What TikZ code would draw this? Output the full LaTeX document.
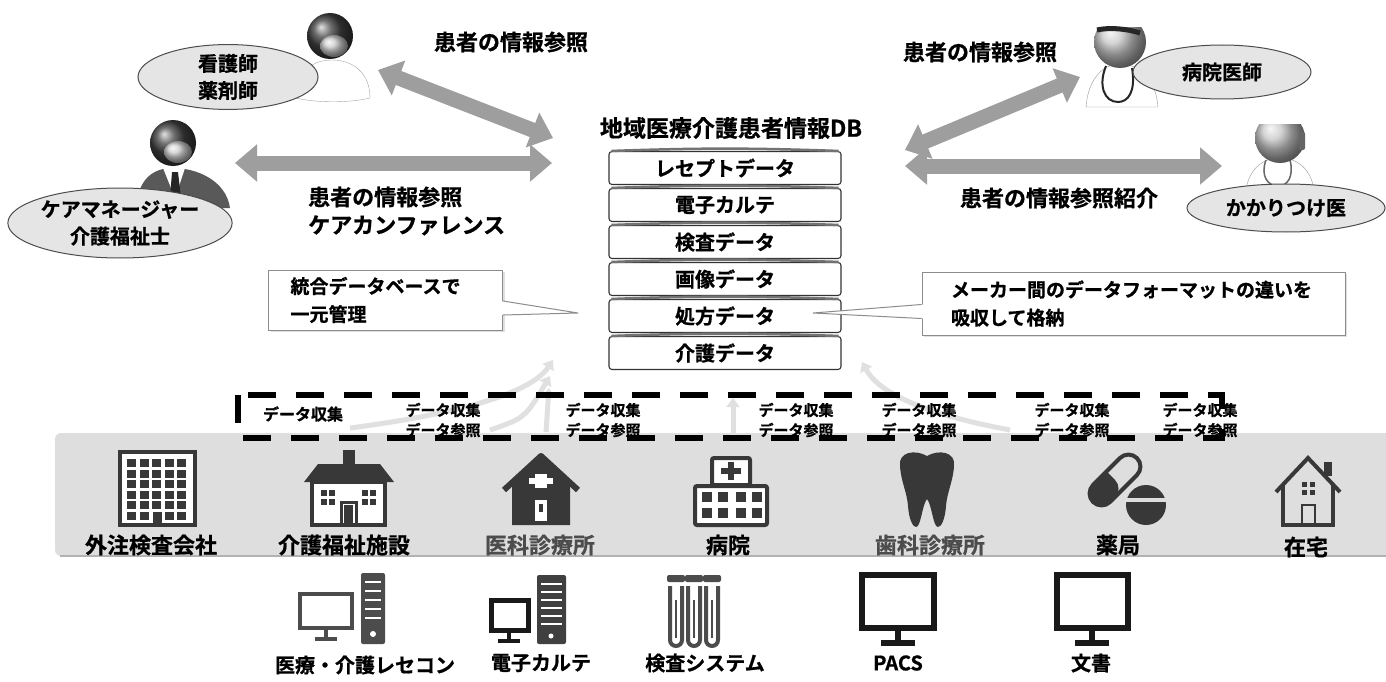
\documentclass[tikz,border=0pt]{standalone}
\usepackage{fontspec}
\setmainfont{Noto Sans CJK JP}[BoldFont={* Bold}, BoldFeatures={FakeBold=0.8}]
\usetikzlibrary{arrows.meta,shapes.geometric,shadows}

\definecolor{icon}{gray}{0.22}
\definecolor{band}{gray}{0.87}
\definecolor{flow}{gray}{0.62}
\definecolor{bubble}{gray}{0.9}

\begin{document}
\begin{tikzpicture}[x=1pt,y=-1pt,
  big/.style={font=\fontsize{22pt}{28pt}\selectfont\bfseries, inner sep=0pt, align=center},
  mid/.style={font=\fontsize{19pt}{28pt}\selectfont\bfseries, inner sep=0pt},
  tiny/.style={font=\fontsize{15pt}{20pt}\selectfont\bfseries, inner sep=0pt, align=left},
  layer/.style={draw=black!80, line width=1.1pt, fill=white, rounded corners=3pt,
    minimum width=232pt, minimum height=33pt, font=\fontsize{20pt}{24pt}\selectfont\bfseries},
  role/.style={ellipse, draw=black!70, line width=1pt, fill=bubble, inner sep=0pt, align=center,
    font=\fontsize{20pt}{27pt}\selectfont\bfseries},
  callout/.style={draw=black!45, line width=1pt, fill=white, align=left,
    drop shadow={shadow xshift=2pt,shadow yshift=-2pt,opacity=.25}},
  flowarrow/.style={line width=15pt, color=flow,
    {Triangle[width=36pt,length=22pt]}-{Triangle[width=36pt,length=22pt]}},
  upflow/.style={line width=5pt, color=black!12, -{Triangle[width=13pt,length=9pt]}},
  facility/.style={font=\fontsize{22pt}{26pt}\selectfont\bfseries, inner sep=0pt},
  system/.style={font=\fontsize{20pt}{24pt}\selectfont\bfseries, inner sep=0pt},
]
%%%%% START %%%%%
\fill[white] (0,0) rectangle (1386,682);
\useasboundingbox (0,0) rectangle (1386,682);

% facilities band and the collection frame
\fill[band, rounded corners=6pt] (55,433) rectangle (1392,556);
\draw[black!30, line width=1.5pt] (60,556) -- (1386,556);

\coordinate (upA0) at (350,428); \coordinate (upA1) at (553,360);
\coordinate (upB0) at (490,430); \coordinate (upB1) at (550,376);
\coordinate (upC0) at (546,432); \coordinate (upC1) at (549,388);
\coordinate (upD0) at (733,438); \coordinate (upD1) at (733,398);
\coordinate (upE0) at (1010,430); \coordinate (upE1) at (862,362);
\draw[upflow] (upA0) .. controls (450,415) and (530,395) .. (upA1);
\draw[upflow] (upB0) .. controls (525,418) .. (upB1);
\draw[upflow] (upC0) -- (upC1);
\draw[upflow] (upD0) -- (upD1);
\draw[upflow] (upE0) .. controls (930,415) and (880,395) .. (upE1);

\draw[line width=6pt, dash pattern=on 28pt off 20pt] (238,395) rectangle (1222,438);

\node[tiny, font=\fontsize{16pt}{20pt}\selectfont\bfseries] (col0) at (303,414) {データ収集};
\foreach \x [count=\k] in {443,603,796,919,1072,1200}
  \node[tiny] (col\k) at (\x,420) {データ収集\\データ参照};

% database stack
\node[big, font=\fontsize{23pt}{27pt}\selectfont\bfseries] (dbt) at (731,128) {地域医療介護患者情報DB};
\foreach \t [count=\i] in {レセプトデータ,電子カルテ,検査データ,画像データ,処方データ,介護データ}{
  \node[layer] (lay\i) at (725,{168+37*(\i-1)}) {\t};
  \draw[black!55, line width=2.5pt] ([xshift=3pt]lay\i.north west) to[bend left=2] ([xshift=-3pt]lay\i.north east);
}

% people
\draw[black!35, fill=white] (296,98) .. controls (296,72) and (312,60) .. (332,60) .. controls (352,60) and (370,72) .. (370,98) .. controls (350,103) and (316,103) .. (296,98) -- cycle;
\shade[ball color=black!75] (330,36) circle (23);
\shade[ball color=black!20] (334,46) ellipse (14 and 11);

\fill[black!65] (136,208) .. controls (138,180) and (152,168) .. (173,168) .. controls (196,168) and (226,180) .. (230,208) -- cycle;
\fill[white] (163,168) -- (185,168) -- (175,198) -- cycle;
\fill[black!85] (172,172) -- (178,172) -- (181,198) -- (176,205) -- (170,198) -- cycle;
\shade[ball color=black!75] (173,143) circle (23);
\shade[ball color=black!20] (178,152) ellipse (14 and 11);

\draw[black!40, fill=white] (1086,107) .. controls (1088,80) and (1102,64) .. (1120,64) .. controls (1140,64) and (1156,80) .. (1158,107) -- cycle;
\draw[black!85, line width=2pt] (1106,66) .. controls (1098,85) and (1104,102) .. (1118,102) .. controls (1128,102) and (1136,92) .. (1132,68);
\shade[ball color=black!22] (1120,42) circle (26);
\fill[white] (1096,12) rectangle (1146,27);
\draw[black!85, line width=5pt] (1097,30) .. controls (1110,27) and (1128,29) .. (1140,33);

\draw[black!40, fill=white] (1245,196) .. controls (1247,172) and (1260,158) .. (1280,158) .. controls (1300,158) and (1313,172) .. (1315,196) -- cycle;
\draw[black!60, line width=1.5pt] (1266,160) .. controls (1260,176) and (1268,186) .. (1278,186) .. controls (1288,186) and (1294,176) .. (1290,160);
\shade[ball color=black!22] (1280,138) circle (25);
\fill[white] (1256,110) rectangle (1306,124);
\fill[black!60, rounded corners=2pt] (1299,132) rectangle (1305,150);

\node[role, minimum width=180pt, minimum height=46pt] (nurse) at (228,77) {看護師\\薬剤師};
\node[role, minimum width=216pt, minimum height=70pt] (caremgr) at (120,223) {ケアマネージャー\\介護福祉士};
\node[role, minimum width=178pt, minimum height=54pt] (hospdoc) at (1222,72) {病院医師};
\node[role, minimum width=198pt, minimum height=48pt] (famdoc) at (1286,208) {かかりつけ医};

% reference arrows
\coordinate (nurseA) at (378,70); \coordinate (dbA) at (553,138);
\coordinate (careA) at (235,163); \coordinate (dbB) at (552,163);
\coordinate (dbC) at (905,150); \coordinate (hospA) at (1080,77);
\coordinate (dbD) at (905,166); \coordinate (famA) at (1222,166);
\draw[flowarrow] (nurseA) -- (dbA);
\draw[flowarrow] (careA) -- (dbB);
\draw[flowarrow] (dbC) -- (hospA);
\draw[flowarrow] (dbD) -- (famA);

\node[big] (refA) at (511,42) {患者の情報参照};
\node[big, anchor=west, align=left] (refB) at (308,211) {患者の情報参照\\ケアカンファレンス};
\node[big] (refC) at (980,52) {患者の情報参照};
\node[big] (refD) at (1059,198) {患者の情報参照紹介};

% callouts
\node[callout, mid, align=left, text width=190pt, inner xsep=22pt, minimum height=60pt] (noteL) at (385.5,300) {統合データベースで\\一元管理};
\node[callout, mid, align=left, text width=365pt, inner xsep=29pt, minimum height=63pt] (noteR) at (1133.5,303.5) {メーカー間のデータフォーマットの違いを\\吸収して格納};
\coordinate (tipL) at (578,313);
\coordinate (tipR) at (813,313);
\fill[white] ([xshift=-2pt,yshift=-1pt]noteL.east) -- (tipL) -- ([xshift=-2pt,yshift=-15pt]noteL.east) -- cycle;
\draw[black!45, line width=1pt] ([yshift=-1pt]noteL.east) -- (tipL) -- ([yshift=-15pt]noteL.east);
\fill[white] ([xshift=2pt,yshift=-1pt]noteR.west) -- (tipR) -- ([xshift=2pt,yshift=-15pt]noteR.west) -- cycle;
\draw[black!45, line width=1pt] ([yshift=-1pt]noteR.west) -- (tipR) -- ([yshift=-15pt]noteR.west);

% facility icons
\draw[icon, line width=4.5pt, fill=white] (120,452) rectangle (195,525);
\foreach \c in {0,...,4}
  \foreach \r in {0,...,5}
    \fill[icon] ({127+12.5*\c},{459+10.5*\r}) rectangle ++(9,8);
\fill[white] (150,510) rectangle (165,523);
\fill[icon] (153,512) rectangle (162,525);

\fill[icon] (343,450) rectangle (355,466);
\fill[icon] (304,482) -- (318,464) -- (380,464) -- (394,482) -- cycle;
\draw[icon, line width=4pt, fill=white] (312,482) rectangle (385,525);
\foreach \x in {321,329,362,370}
  \foreach \y in {490,499}
    \fill[icon] (\x,\y) rectangle ++(6,6);
\draw[icon, line width=3pt] (341,527) -- (341,502) -- (356,502) -- (356,527);
\fill[icon] (344,505) rectangle (353,525);

\fill[icon] (512,525) -- (512,485) -- (541,459) -- (570,485) -- (570,525) -- cycle;
\draw[icon, line width=6pt, line join=round] (504,490) -- (541,456) -- (578,490);
\fill[white] (535,474) rectangle (547,488);
\fill[white] (529,478) rectangle (553,484);
\fill[white] (535,500) rectangle (547,521);
\fill[icon] (539,504) rectangle (543,512);

\draw[icon, line width=4pt, fill=white, rounded corners=2pt] (712,485) rectangle (750,458);
\fill[icon] (728,462) rectangle (734,480);
\fill[icon] (721,468) rectangle (741,474);
\draw[icon, line width=4pt, fill=white, rounded corners=2pt] (695,486) rectangle (767,525);
\foreach \x in {702,718,736,752}
  \foreach \y in {492,508}
    \fill[icon] (\x,\y) rectangle ++(10,10);

\fill[icon] (900,466) .. controls (898,452) and (915,449) .. (927,456) .. controls (939,449) and (956,452) .. (954,466)
  .. controls (953,482) and (947,492) .. (946,506) .. controls (945,520) and (941,527) .. (938,527)
  .. controls (933,527) and (932,505) .. (927,499) .. controls (922,505) and (921,527) .. (916,527)
  .. controls (913,527) and (909,520) .. (908,506) .. controls (907,492) and (901,482) .. (900,466) -- cycle;

\begin{scope}[shift={(1115,480)}, rotate=45]
  \fill[icon] (-31,-12) [rounded corners=12pt] -- (-31,12) -- (0,12) [sharp corners] -- (0,-12) [rounded corners=12pt] -- cycle;
  \draw[icon, line width=4pt, rounded corners=12pt] (-31,-12) rectangle (31,12);
\end{scope}
\fill[icon] (1146,505) circle (20);
\draw[band, line width=3.5pt] (1125,500) -- (1167,500);

\draw[icon, line width=4pt, line join=miter] (1276,492) -- (1308,458) -- (1340,492);
\draw[icon, line width=4pt] (1283,485) -- (1283,525) -- (1333,525) -- (1333,485);
\fill[icon] (1324,462) rectangle (1332,476);
\foreach \x in {1302,1310}
  \foreach \y in {482,490}
    \fill[icon] (\x,\y) rectangle ++(5,5);
\draw[icon, line width=2.5pt] (1302,525) -- (1302,505) -- (1315,505) -- (1315,525);

\node[facility] (lab1) at (151,545) {外注検査会社};
\node[facility] (lab2) at (344,545) {介護福祉施設};
\node[facility, text=black!70] (lab3) at (540,545) {医科診療所};
\node[facility] (lab4) at (728,545) {病院};
\node[facility, text=black!70] (lab5) at (930,545) {歯科診療所};
\node[facility] (lab6) at (1118,545) {薬局};
\node[facility] (lab7) at (1306,547) {在宅};

% system icons
\draw[black!70, line width=4pt] (300,594) rectangle (352,628);
\draw[black!70, line width=4pt] (326,628) -- (326,638);
\draw[black!70, line width=4pt] (315,639) -- (337,639);
\fill[black!70, rounded corners=2pt] (361,573) rectangle (385,644);
\foreach \y in {582,591,600,609,618}
  \draw[white, line width=2.5pt] (365,\y) -- (381,\y);
\fill[white] (373,634) circle (3);

\draw[black!90, line width=5pt] (491,600) rectangle (528,630);
\draw[black!90, line width=4pt] (509,630) -- (509,640);
\draw[black!90, line width=4pt] (498,641) -- (520,641);
\fill[black!75, rounded corners=2pt] (537,575) rectangle (566,644);
\foreach \y in {584,592,600,608,616,624}
  \draw[white, line width=2pt] (541,\y) -- (562,\y);
\fill[white] (551,636) circle (2.5);

\foreach \cx in {676,694,712}{
  \fill[black!70, rounded corners=2pt] ({\cx-9},575) rectangle ({\cx+9},582);
  \draw[black!70, line width=4pt] ({\cx-6},586) -- ({\cx-6},640) arc (180:0:6) -- ({\cx+6},586);
  \draw[black!70, line width=2pt] (\cx,600) -- (\cx,638);
}

\draw[black!90, line width=6pt] (862,575) rectangle (934,628);
\draw[black!90, line width=6pt] (898,628) -- (898,640);
\draw[black!90, line width=6pt] (881,643) -- (915,643);
\draw[black!90, line width=6pt] (1057,575) rectangle (1128,628);
\draw[black!90, line width=6pt] (1092,628) -- (1092,640);
\draw[black!90, line width=6pt] (1075,643) -- (1109,643);

\node[system] (sys1) at (365,665) {医療・介護レセコン};
\node[system] (sys2) at (541,663) {電子カルテ};
\node[system] (sys3) at (705,663) {検査システム};
\node[system] (sys4) at (898,663) {PACS};
\node[system] (sys5) at (1091,663) {文書};
%%%%% END %%%%%
\end{tikzpicture}
\end{document}
